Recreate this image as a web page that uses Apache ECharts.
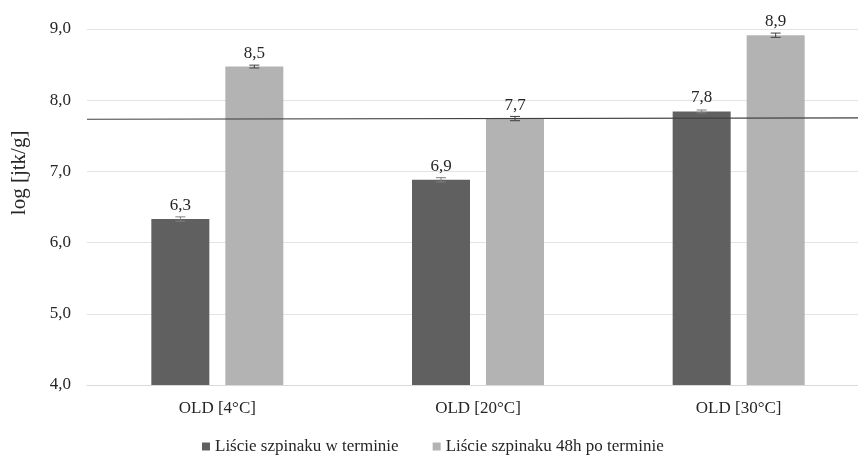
<!DOCTYPE html>
<html>
<head>
<meta charset="utf-8">
<script src="https://cdn.jsdelivr.net/npm/echarts@6/dist/echarts.min.js"></script>
<style>
  html, body { margin: 0; padding: 0; background: #fff; overflow: hidden; }
  #chart { width: 869px; height: 457px; }
</style>
</head>
<body>
<div id="chart"></div>
<script>
// Categories and series
const categories = ['OLD [4°C]', 'OLD [20°C]', 'OLD [30°C]'];
const seriesNames = ['Liście szpinaku w terminie', 'Liście szpinaku 48h po terminie'];
const onTime = [6.33, 6.88, 7.84];
const after48h = [8.47, 7.74, 8.91];
// Standard deviations drawn as whiskers
const onTimeErr = [0.03, 0.03, 0.02];
const after48hErr = [0.02, 0.03, 0.03];
// Reference level drawn across the plot (x from 0 to 3 category widths)
const refLine = [[0, 7.73], [3, 7.75]];
// Y-axis range and ticks
const yMin = 4, yMax = 9, yStep = 1;

const FONT = '"Liberation Serif", "Times New Roman", serif';
const TEXT = '#262626';
const DARK = '#606060';
const LIGHT = '#b3b3b3';
const BAR_W = 58;
const BAR_GAP = 16;

const fmt = v => v.toFixed(1).replace('.', ',');

function errorSeries(values, errs, side, color) {
  return {
    type: 'custom',
    silent: true,
    z: 5,
    data: values.map((v, i) => [i, v, errs[i]]),
    renderItem: function (params, api) {
      const i = api.value(0), v = api.value(1), e = api.value(2);
      const shift = side * (BAR_W / 2 + BAR_GAP / 2);
      const hi = api.coord([i, v + e]);
      const lo = api.coord([i, v - e]);
      const x = hi[0] + shift;
      const cap = 5;
      const style = { stroke: color, lineWidth: 1 };
      return {
        type: 'group',
        children: [
          { type: 'line', shape: { x1: x, y1: hi[1], x2: x, y2: lo[1] }, style },
          { type: 'line', shape: { x1: x - cap, y1: hi[1], x2: x + cap, y2: hi[1] }, style },
          { type: 'line', shape: { x1: x - cap, y1: lo[1], x2: x + cap, y2: lo[1] }, style }
        ]
      };
    }
  };
}

const barLabel = {
  show: true,
  position: 'top',
  distance: 5,
  fontFamily: FONT,
  fontSize: 17,
  color: TEXT,
  formatter: p => fmt(p.value)
};

const chart = echarts.init(document.getElementById('chart'), null, { renderer: 'canvas' });
chart.setOption({
  animation: false,
  backgroundColor: '#ffffff',
  textStyle: { fontFamily: FONT },
  grid: { left: 87, right: 0, top: 28.8, bottom: 72, containLabel: false },
  legend: {
    data: seriesNames,
    top: 433,
    left: 197,
    icon: 'rect',
    itemWidth: 8,
    itemHeight: 8,
    itemGap: 34,
    textStyle: { fontFamily: FONT, fontSize: 17, color: TEXT }
  },
  xAxis: [
    {
      type: 'category',
      data: categories,
      axisTick: { show: false },
      axisLine: { lineStyle: { color: '#d9d9d9' } },
      axisLabel: { fontFamily: FONT, fontSize: 17, color: TEXT, margin: 15 }
    },
    {
      type: 'value',
      min: 0,
      max: 3,
      show: false
    }
  ],
  yAxis: {
    type: 'value',
    min: yMin,
    max: yMax,
    interval: yStep,
    name: 'log [jtk/g]',
    nameLocation: 'middle',
    nameRotate: 90,
    nameGap: 57,
    nameTextStyle: { fontFamily: FONT, fontSize: 21, color: TEXT, padding: [0, 0, 0, 68] },
    axisLine: { show: false },
    axisTick: { show: false },
    axisLabel: { fontFamily: FONT, fontSize: 17, color: TEXT, margin: 16, formatter: v => fmt(v) },
    splitLine: { lineStyle: { color: '#e3e3e3', width: 1 } }
  },
  series: [
    {
      name: seriesNames[0],
      type: 'bar',
      data: onTime,
      barWidth: BAR_W,
      barGap: (BAR_GAP / BAR_W * 100) + '%',
      itemStyle: { color: DARK },
      label: barLabel
    },
    {
      name: seriesNames[1],
      type: 'bar',
      data: after48h,
      barWidth: BAR_W,
      itemStyle: { color: LIGHT },
      label: barLabel
    },
    errorSeries(onTime, onTimeErr, -1, '#7f7f7f'),
    errorSeries(after48h, after48hErr, 1, '#404040'),
    {
      type: 'line',
      xAxisIndex: 1,
      data: refLine,
      symbol: 'none',
      silent: true,
      z: 10,
      lineStyle: { color: '#404040', width: 1.2 }
    }
  ]
});
</script>
</body>
</html>
